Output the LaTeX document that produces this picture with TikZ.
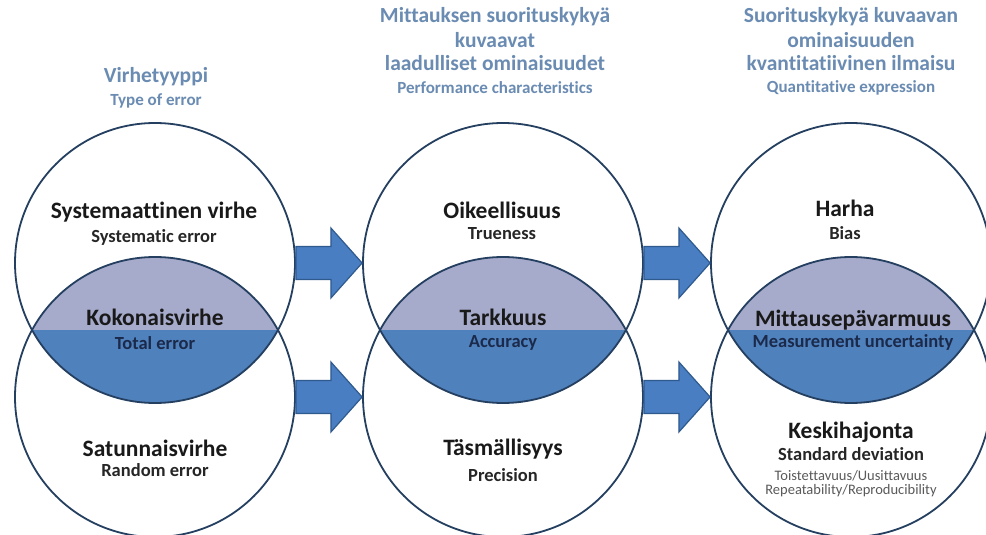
\documentclass[tikz,border=0pt]{standalone}
\usepackage{fontspec}
\setmainfont{Carlito}[Ligatures=NoCommon]
\usetikzlibrary{calc}
\definecolor{navy}{HTML}{243F60}
\definecolor{lensgray}{HTML}{A6AACB}
\definecolor{lensblue}{HTML}{4F81BD}
\definecolor{arrowfill}{HTML}{4A7EC2}
\definecolor{arrowline}{HTML}{2E5A8E}
\definecolor{titleblue}{HTML}{6A8BB2}
\definecolor{darknavy}{HTML}{1B2A4A}
\definecolor{smallgray}{HTML}{5A5A5A}
\begin{document}
\begin{tikzpicture}[x=1pt,y=-1pt,
  ring/.style={circle,draw=navy,line width=1.8pt,minimum size=280pt,inner sep=0pt},
  blockarrow/.style={fill=arrowfill,draw=arrowline,line width=1.2pt,line join=miter},
  ttl/.style={text=titleblue,font=\fontsize{21.5}{23}\selectfont\bfseries,align=center,inner sep=0pt},
  ttlsub/.style={text=titleblue,font=\fontsize{17}{19}\selectfont\bfseries,inner sep=0pt},
  mainlbl/.style={text=black!90,font=\fontsize{23.5}{25}\selectfont\bfseries,inner sep=0pt},
  sublbl/.style={text=black!85,font=\fontsize{18.5}{20}\selectfont\bfseries,inner sep=0pt},
  lenssub/.style={text=darknavy,font=\fontsize{18.5}{20}\selectfont\bfseries,inner sep=0pt},
  smalllbl/.style={text=smallgray,font=\fontsize{14.5}{16}\selectfont,inner sep=0pt}]
\useasboundingbox (0,0) rectangle (986,535);
\fill[white] (0,0) rectangle (986,535);

% lens fills
\foreach \cx in {155,503,851}{
  \begin{scope}
    \clip (\cx,263) circle[radius=140pt];
    \clip (\cx,397) circle[radius=140pt];
    \fill[lensgray] (\cx-150,250) rectangle (\cx+150,330);
    \fill[lensblue] (\cx-150,330) rectangle (\cx+150,410);
  \end{scope}
}

% circles
\node[ring] (lt) at (155,263) {};
\node[ring] (lb) at (155,397) {};
\node[ring] (mt) at (503,263) {};
\node[ring] (mb) at (503,397) {};
\node[ring] (rt) at (851,263) {};
\node[ring] (rb) at (851,397) {};

% block arrows
\foreach \a/\b in {lt/mt,lb/mb,mt/rt,mb/rb}{
  \draw[blockarrow] ([yshift=16.5pt]\a.east) -- ([xshift=35pt,yshift=16.5pt]\a.east)
    -- ([xshift=35pt,yshift=35pt]\a.east) -- (\b.west)
    -- ([xshift=35pt,yshift=-35pt]\a.east) -- ([xshift=35pt,yshift=-16.5pt]\a.east)
    -- ([yshift=-16.5pt]\a.east) -- cycle;
}

% titles
\node[ttl] (t1) at (156,77) {Virhetyyppi};
\node[ttlsub] (t1s) at (156,101) {Type of error};
\node[ttl] (t2a) at (495,17) {Mittauksen suorituskykyä};
\node[ttl] (t2b) at (495,40) {kuvaavat};
\node[ttl] (t2c) at (495,63) {laadulliset ominaisuudet};
\node[ttlsub] (t2s) at (495,88) {Performance characteristics};
\node[ttl] (t3a) at (851,17) {Suorituskykyä kuvaavan};
\node[ttl] (t3b) at (851,40) {ominaisuuden};
\node[ttl] (t3c) at (851,63) {kvantitatiivinen ilmaisu};
\node[ttlsub] (t3s) at (851,88) {Quantitative expression};

% left column
\node[mainlbl] (l1) at (154,212) {Systemaattinen virhe};
\node[sublbl] (l1s) at (154,237) {Systematic error};
\node[mainlbl] (l2) at (155,317) {Kokonaisvirhe};
\node[lenssub] (l2s) at (155,343) {Total error};
\node[mainlbl] (l3) at (155,448) {Satunnaisvirhe};
\node[sublbl] (l3s) at (155,470) {Random error};

% middle column
\node[mainlbl] (m1) at (502,210) {Oikeellisuus};
\node[sublbl] (m1s) at (502,234) {Trueness};
\node[mainlbl] (m2) at (503,317) {Tarkkuus};
\node[lenssub] (m2s) at (503,343) {Accuracy};
\node[mainlbl] (m3) at (503,449) {Täsmällisyys};
\node[sublbl] (m3s) at (503,475) {Precision};

% right column
\node[mainlbl] (r1) at (845,208) {Harha};
\node[sublbl] (r1s) at (845,233) {Bias};
\node[mainlbl] (r2) at (853,320) {Mittausepävarmuus};
\node[lenssub] (r2s) at (853,342) {Measurement uncertainty};
\node[mainlbl] (r3) at (851,432) {Keskihajonta};
\node[sublbl] (r3s) at (851,454) {Standard deviation};
\node[smalllbl] (r3t) at (851,476) {Toistettavuus/Uusittavuus};
\node[smalllbl] (r3u) at (851,491) {Repeatability/Reproducibility};
\end{tikzpicture}
\end{document}
